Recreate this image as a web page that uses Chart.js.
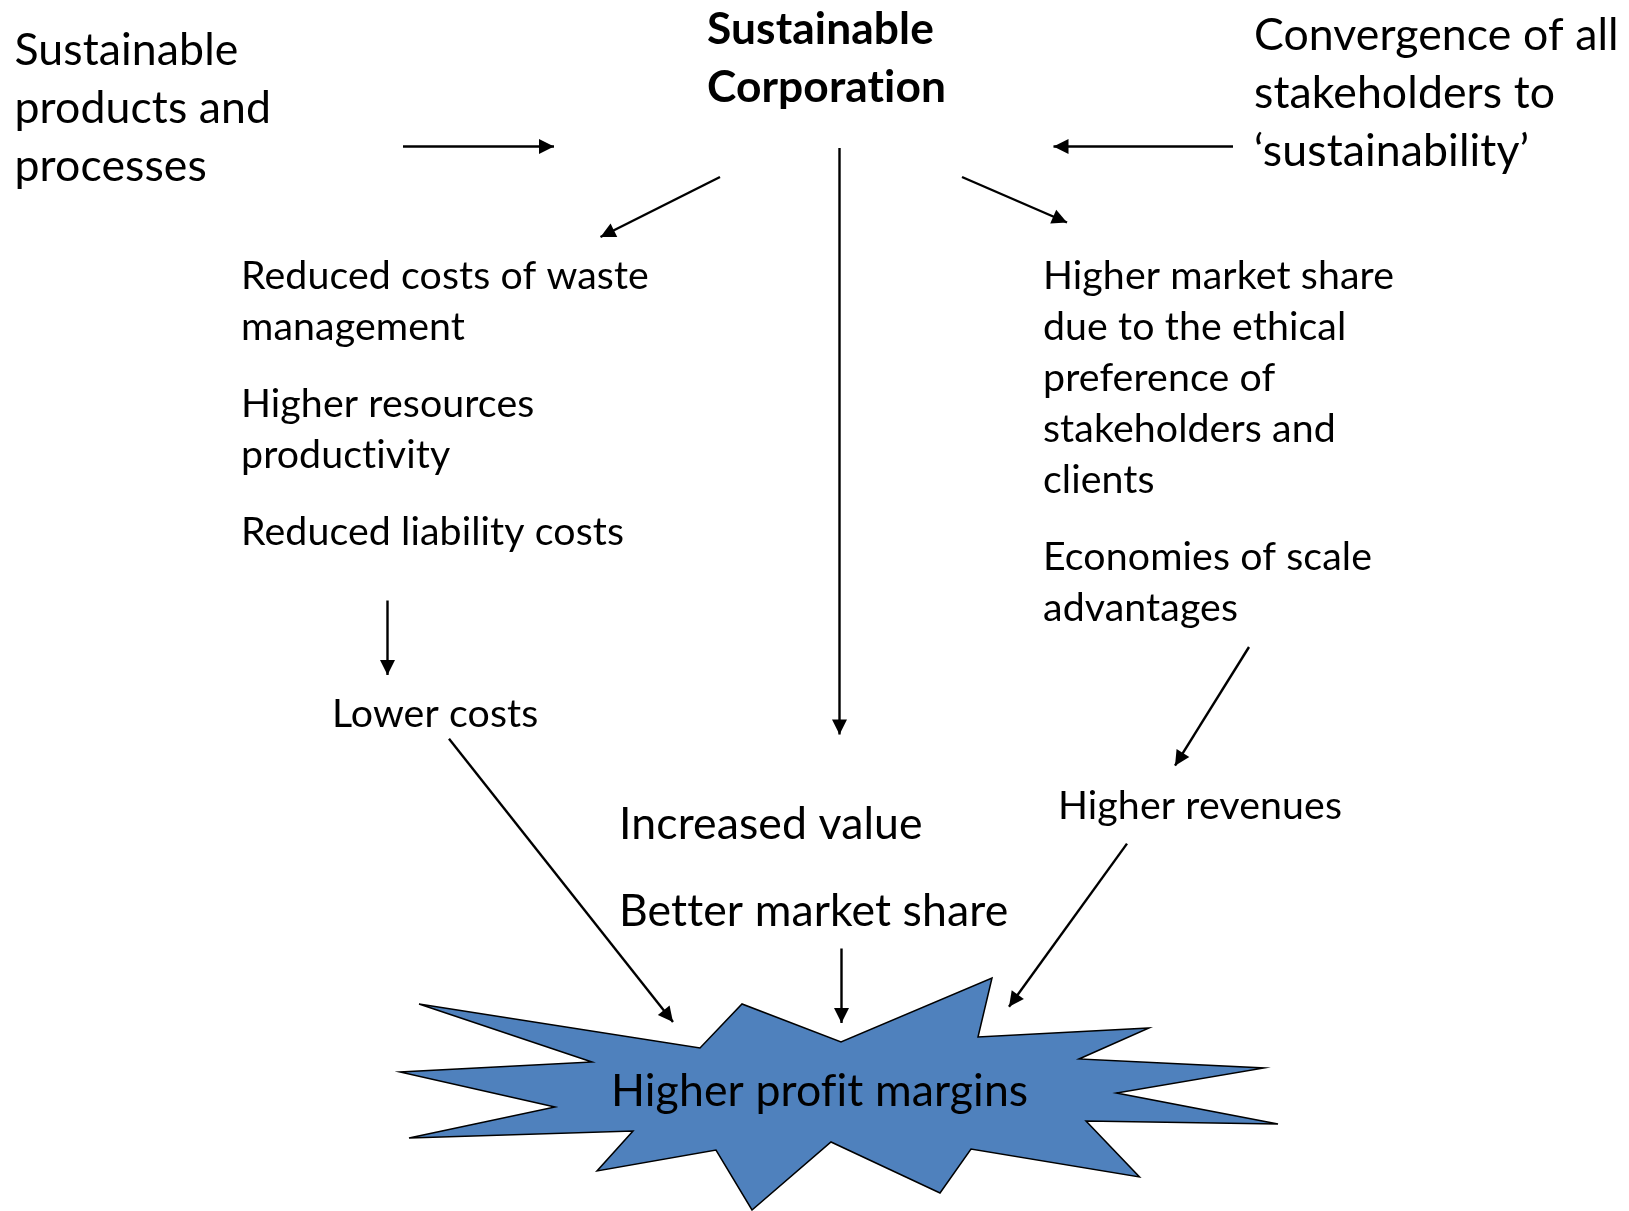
<!DOCTYPE html>
<html>
<head>
<meta charset="utf-8">
<script src="https://cdn.jsdelivr.net/npm/chart.js@4.4.0/dist/chart.umd.min.js"></script>
<style>
html,body{margin:0;padding:0;background:#ffffff;overflow:hidden;}
#wrap{width:1629px;height:1211px;position:relative;}
</style>
</head>
<body>
<div id="wrap"><canvas id="c" width="1629" height="1211"></canvas></div>
<script>
// ---------- DATA ----------
const textLines = [
  ["Sustainable", "products and", "processes"],
  ["Sustainable", "Corporation"],
  ["Convergence of all", "stakeholders to", "\u2018sustainability\u2019"],
  ["Reduced costs of waste", "management"],
  ["Higher resources", "productivity"],
  ["Reduced liability costs"],
  ["Lower costs"],
  ["Higher market share", "due to the ethical", "preference of", "stakeholders and", "clients"],
  ["Economies of scale", "advantages"],
  ["Higher revenues"],
  ["Increased value"],
  ["Better market share"],
  ["Higher profit margins"]
];
const textX = [14.5, 707, 1254, 241, 241, 241, 332, 1043, 1043, 1058, 619, 619, 611];
const textY = [64.5, 44.2, 50, 289, 416.6, 545, 727, 289, 570, 818.6, 839.4, 925.7, 1106];

const arrowStartX = [403, 720, 839.5, 1233, 962, 387.5, 1249, 449, 841.5, 1127];
const arrowStartY = [146.5, 177, 148, 146.5, 177, 600.5, 647, 738.7, 948.5, 843.6];
const arrowEndX   = [554, 600.5, 839.5, 1053.5, 1067, 387.5, 1175, 673, 841.5, 1009];
const arrowEndY   = [146.5, 237, 734.5, 146.5, 222.5, 675, 765.7, 1022, 1023, 1006.7];

const starX = [419, 700, 742, 841, 992, 978, 1149, 1079, 1264, 1116.5, 1278, 1086, 1139.5, 971, 940, 831, 752, 716, 597, 633, 409, 555, 400, 592];
const starY = [1004, 1048, 1004, 1042, 978, 1037, 1028, 1059, 1068, 1093, 1124, 1121, 1177, 1149, 1193, 1142, 1210, 1150, 1171, 1131, 1138, 1107, 1072, 1062];

// ---------- STYLE ----------
const bigNodes = [0, 1, 2, 10, 11, 12];
const boldNodes = [1];
const FONT = "Lato, 'Noto Sans', sans-serif";

// ---------- BUILD ----------
const starPts = starX.map((x, i) => ({x: x, y: starY[i]}));
starPts.push({x: starX[0], y: starY[0]});

const datasets = [{
  label: 'star',
  data: starPts,
  showLine: true,
  fill: 'shape',
  backgroundColor: '#4F81BD',
  borderColor: '#000000',
  borderWidth: 1.5,
  borderJoinStyle: 'miter',
  pointRadius: 0,
  tension: 0
}];
arrowStartX.forEach((sx, i) => {
  datasets.push({
    label: 'arrow' + i,
    isArrow: true,
    data: [{x: sx, y: arrowStartY[i]}, {x: arrowEndX[i], y: arrowEndY[i]}],
    showLine: true,
    fill: false,
    borderColor: '#000000',
    borderWidth: 2.4,
    pointRadius: 0,
    tension: 0
  });
});

const diagramPlugin = {
  id: 'diagram',
  afterDatasetsDraw(chart) {
    const ctx = chart.ctx;
    chart.data.datasets.forEach((ds, di) => {
      if (!ds.isArrow) return;
      const pts = chart.getDatasetMeta(di).data;
      const a = pts[0], b = pts[1];
      const ang = Math.atan2(b.y - a.y, b.x - a.x);
      const L = 15, W = 7.5;
      ctx.save();
      ctx.fillStyle = '#000';
      ctx.beginPath();
      ctx.moveTo(b.x, b.y);
      ctx.lineTo(b.x - L * Math.cos(ang) + W * Math.sin(ang), b.y - L * Math.sin(ang) - W * Math.cos(ang));
      ctx.lineTo(b.x - L * Math.cos(ang) - W * Math.sin(ang), b.y - L * Math.sin(ang) + W * Math.cos(ang));
      ctx.closePath();
      ctx.fill();
      ctx.restore();
    });
  },
  afterDraw(chart) {
    const ctx = chart.ctx;
    const xs = chart.scales.x, ys = chart.scales.y;
    ctx.save();
    ctx.fillStyle = '#000';
    ctx.textAlign = 'left';
    ctx.textBaseline = 'alphabetic';
    if ('letterSpacing' in ctx) ctx.letterSpacing = '0.1px';
    textLines.forEach((lines, i) => {
      const big = bigNodes.includes(i);
      const bold = boldNodes.includes(i);
      const size = bold ? 44.3 : (big ? 44.6 : 39.3);
      const gap = big ? 58 : 51;
      ctx.font = (bold ? 'bold ' : '') + size + 'px ' + FONT;
      const px = xs.getPixelForValue(textX[i]);
      lines.forEach((t, j) => {
        const py = ys.getPixelForValue(textY[i] + j * gap);
        ctx.fillText(t, px, py);
      });
    });
    ctx.restore();
  }
};

new Chart(document.getElementById('c'), {
  type: 'scatter',
  data: {datasets: datasets},
  options: {
    responsive: false,
    animation: false,
    devicePixelRatio: 1,
    layout: {padding: 0},
    plugins: {legend: {display: false}, tooltip: {enabled: false}, title: {display: false}},
    events: [],
    scales: {
      x: {type: 'linear', min: 0, max: 1629, display: false},
      y: {type: 'linear', min: 0, max: 1211, reverse: true, display: false}
    }
  },
  plugins: [diagramPlugin]
});
</script>
</body>
</html>
